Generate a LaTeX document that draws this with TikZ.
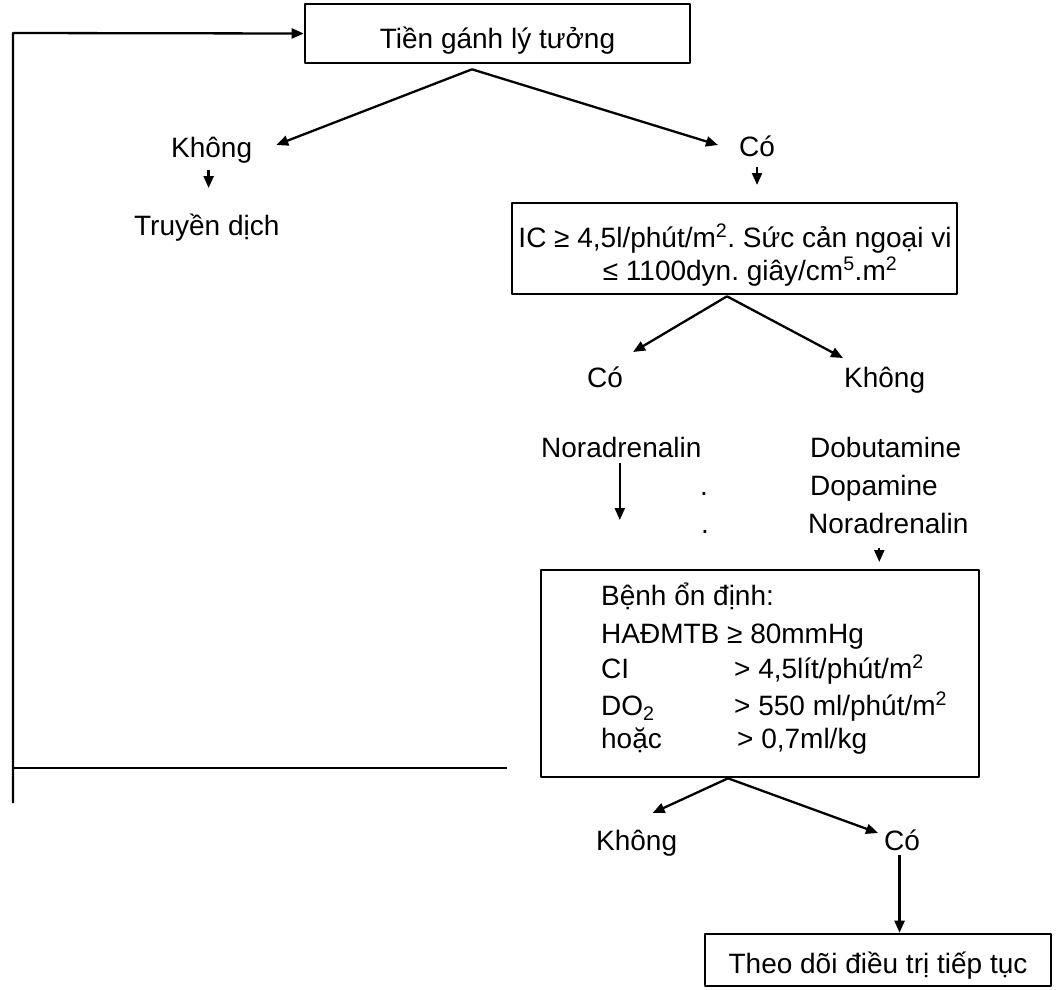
\documentclass[tikz,border=0pt]{standalone}
\usepackage{fontspec}
\setmainfont{Liberation Sans}
\usetikzlibrary{arrows.meta}
\tikzset{
	hop/.style={draw, line width=2.6pt, inner sep=0pt, align=center},
	chu/.style={inner sep=0pt, anchor=base west}
}
\frenchspacing
\begin{document}
\begin{tikzpicture}[x=1pt, y=-1pt, font=\fontsize{28}{33}\selectfont, line width=2.3pt, line join=round, >={Triangle[length=12pt,width=10pt]}]
	\useasboundingbox (0,0) rectangle (1060,989);
	\node[hop, minimum width=385pt, minimum height=59pt, text height=29pt, text depth=0pt] (lytuong) at (497.5,33.5) {Tiền gánh lý tưởng};
	\node[chu] (khong1) at (170,157) {Không};
	\node[chu] (truyen) at (133,235) {Truyền dịch};
	\node[chu] (co1) at (738,156) {Có};
	\node[hop, minimum width=445pt, minimum height=91pt] (chiso) at (734.5,248.5) {};
	\node[chu, anchor=base] (chiso1) at (735,247) {IC ≥ 4,5l/phút/m\textsuperscript{2}. Sức cản ngoại vi};
	\node[chu, anchor=base] (chiso2) at (750,280) {≤ 1100dyn. giây/cm\textsuperscript{5}.m\textsuperscript{2}};
	\node[chu] (co2) at (586,387) {Có};
	\node[chu] (khong2) at (843,387) {Không};
	\node[chu] (nora1) at (540,457) {Noradrenalin};
	\node[chu] (dobu) at (809,457) {Dobutamine};
	\node[chu] (dopa) at (809,495) {Dopamine};
	\node[chu] (nora2) at (807,533) {Noradrenalin};
	\node[chu] (cham1) at (699,495) {.};
	\node[chu] (cham2) at (700,533) {.};
	\node[hop, minimum width=438pt, minimum height=207pt] (ondinh) at (760,673.5) {};
	\node[chu] (benh) at (600,605) {Bệnh ổn định:};
	\node[chu] (hadm) at (600,643) {HAĐMTB ≥ 80mmHg};
	\node[chu] (ci) at (600,678) {CI};
	\node[chu] (ciso) at (733,678) {> 4,5lít/phút/m\textsuperscript{2}};
	\node[chu] (doh) at (600,715) {DO\textsubscript{2}};
	\node[chu] (doso) at (733,715) {> 550 ml/phút/m\textsuperscript{2}};
	\node[chu] (hoac) at (600,748) {hoặc};
	\node[chu] (hoacso) at (736,748) {> 0,7ml/kg};
	\node[chu] (khong3) at (595,850) {Không};
	\node[chu] (co3) at (883,850) {Có};
	\node[hop, minimum width=346pt, minimum height=52pt, text height=27pt, text depth=0pt] (theodoi) at (878,960) {Theo dõi điều trị tiếp tục};
	\coordinate (goc) at (13,33);
	\coordinate (day) at (13,803);
	\coordinate (ngang) at (507,768);
	\draw[->] (day) -- (goc) -- (lytuong.west);
	\draw (day |- ngang) -- (ngang);
	\draw[->] ([xshift=-25.5pt,yshift=-5pt]lytuong.south) -- ([xshift=23pt,yshift=12pt]khong1.base east);
	\draw[->] ([xshift=-25.5pt,yshift=-5pt]lytuong.south) -- ([xshift=-20pt,yshift=11pt]co1.base west);
	\draw[->] ([xshift=-3pt,yshift=-13pt]khong1.base) -- ++(0,18);
	\draw[->] ([yshift=-11pt]co1.base) -- ++(0,18);
	\draw[->] ([xshift=-7.5pt,yshift=-1pt]chiso.south) -- ([xshift=9pt,yshift=35pt]co2.base east);
	\draw[->] ([xshift=-7.5pt,yshift=-1pt]chiso.south) -- ([yshift=29pt]khong2.base west);
	\draw[->] ([xshift=-1.5pt,yshift=-6pt]nora1.base) -- ++(0,57);
	\draw[->] ([xshift=-9pt,yshift=-15pt]nora2.base) -- ++(0,14);
	\draw[->] ([xshift=-32pt]ondinh.south) -- ([xshift=16pt,yshift=37pt]khong3.base);
	\draw[->] ([xshift=-32pt]ondinh.south) -- ([xshift=-5pt,yshift=17pt]co3.base west);
	\draw[->] ([xshift=-2.5pt,yshift=-5pt]co3.base) -- ([xshift=-2.5pt]co3.base |- theodoi.north);
\end{tikzpicture}
\end{document}
